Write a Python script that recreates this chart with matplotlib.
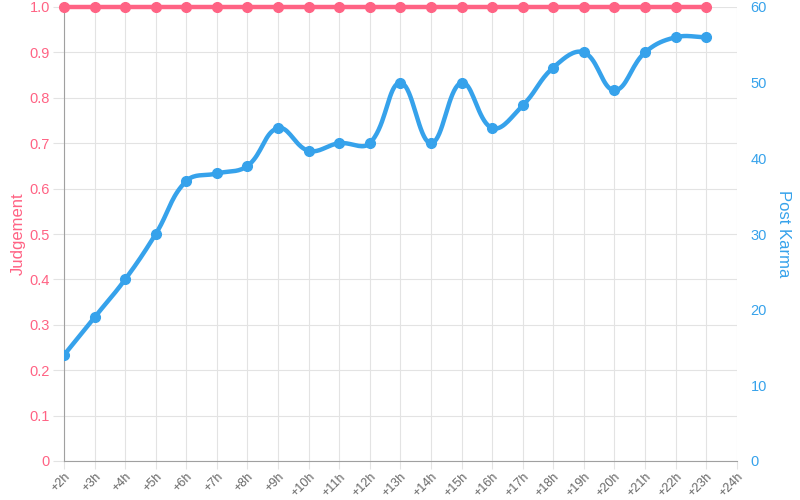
import matplotlib.pyplot as plt
import numpy as np

plt.rcParams['font.family'] = ['Liberation Sans', 'DejaVu Sans']

hours = ['+2h', '+3h', '+4h', '+5h', '+6h', '+7h', '+8h', '+9h', '+10h', '+11h', '+12h',
         '+13h', '+14h', '+15h', '+16h', '+17h', '+18h', '+19h', '+20h', '+21h', '+22h',
         '+23h', '+24h']
judgement = [1.0] * 22
post_karma = [14, 19, 24, 30, 37, 38, 39, 44, 41, 42, 42, 50, 42, 50, 44, 47, 52, 54, 49,
              54, 56, 56]

PINK = '#ff6384'
BLUE = '#36a2eb'
GRID = '#e3e3e3'
AXIS = '#a0a0a0'


def spline(x, y, tension=0.4, n=20):
    # Chart.js style bezier smoothing between points
    x = np.asarray(x, float)
    y = np.asarray(y, float)
    xs, ys = [x[0]], [y[0]]
    m = len(x)
    cps = []
    for i in range(m):
        p = (x[max(i - 1, 0)], y[max(i - 1, 0)])
        c = (x[i], y[i])
        nx = (x[min(i + 1, m - 1)], y[min(i + 1, m - 1)])
        d01 = np.hypot(c[0] - p[0], c[1] - p[1])
        d12 = np.hypot(nx[0] - c[0], nx[1] - c[1])
        s01 = d01 / (d01 + d12) if d01 + d12 else 0
        s12 = d12 / (d01 + d12) if d01 + d12 else 0
        fa, fb = tension * s01, tension * s12
        prev = (c[0] - fa * (nx[0] - p[0]), c[1] - fa * (nx[1] - p[1]))
        nxt = (c[0] + fb * (nx[0] - p[0]), c[1] + fb * (nx[1] - p[1]))
        cps.append((prev, nxt))
    t = np.linspace(0, 1, n)[1:]
    for i in range(m - 1):
        p0 = np.array([x[i], y[i]])
        p1 = np.array(cps[i][1])
        p2 = np.array(cps[i + 1][0])
        p3 = np.array([x[i + 1], y[i + 1]])
        for tt in t:
            pt = ((1 - tt) ** 3) * p0 + 3 * ((1 - tt) ** 2) * tt * p1 + 3 * (1 - tt) * tt ** 2 * p2 + tt ** 3 * p3
            xs.append(pt[0])
            ys.append(pt[1])
    return np.array(xs), np.array(ys)


fig = plt.figure(figsize=(8, 5), dpi=100)
ax = fig.add_axes([0.08, 0.078, 0.841, 0.908])
ax2 = ax.twinx()

# smooth in pixel-like space so the curve shape matches
xk = np.arange(len(post_karma))
sx, sy = spline(xk * 30.6, np.array(post_karma) * -7.6)
ax2.plot(sx / 30.6, -sy / 7.6, color=BLUE, lw=3.2, solid_capstyle='round', zorder=3)
ax2.plot(xk, post_karma, 'o', color=BLUE, ms=7, zorder=4)

# judgement drawn on top axes but in left-axis coordinates, so grid stays below
xj = np.arange(len(judgement))
ax2.plot(xj, judgement, '-o', color=PINK, lw=3.2, ms=7, zorder=3, clip_on=False,
         transform=ax.transData)

ax.set_xlim(0, len(hours) - 1)
ax.set_ylim(0, 1.0)
ax2.set_ylim(0, 60)
ax.set_xticks(range(len(hours)))
ax.set_xticklabels(hours, rotation=45, ha='right', rotation_mode='anchor', color='#666666', fontsize=9)
ax.set_yticks(np.arange(0, 1.01, 0.1))
ax.set_yticklabels(['0'] + [f'{v:.1f}' for v in np.arange(0.1, 1.01, 0.1)], color=PINK, fontsize=10.5)
ax2.set_yticks(range(0, 61, 10))
ax2.set_yticklabels([str(v) for v in range(0, 61, 10)], color=BLUE, fontsize=10.5)

ax.grid(True, color=GRID, lw=0.8)
ax.set_axisbelow(True)

for s in ['top', 'right']:
    ax.spines[s].set_visible(False)
for s in ['top', 'right', 'left', 'bottom']:
    ax2.spines[s].set_visible(False)
ax.spines['left'].set_color(AXIS)
ax.spines['bottom'].set_color(AXIS)
ax.tick_params(axis='x', length=6, color=GRID, pad=1)
ax.tick_params(axis='y', length=8, color=GRID, pad=2)
ax2.tick_params(axis='y', length=0, pad=10)

ax.set_ylabel('Judgement', color=PINK, fontsize=12, labelpad=3)
ax2.set_ylabel('Post Karma', color=BLUE, fontsize=12, rotation=-90, labelpad=17)

fig.savefig('out.png', dpi=100)
